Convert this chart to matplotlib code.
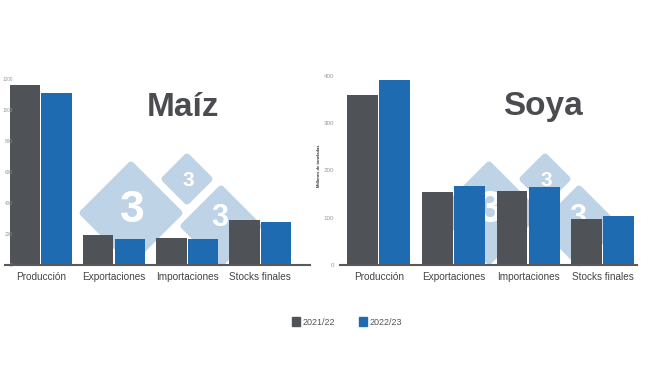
'''
Maíz / Soya supply balance, 2021/22 vs 2022/23, two bar panels side by side.
'''
import matplotlib.pyplot as plt
import numpy as np
from matplotlib.patches import Patch, Polygon

categorias = ['Producción', 'Exportaciones', 'Importaciones', 'Stocks finales']
campanas = ['2021/22', '2022/23']

maiz_2122 = [1161, 194, 172, 290]
maiz_2223 = [1108, 168, 166, 280]
maiz_ticks = [0, 200, 400, 600, 800, 1000, 1200]

soya_2122 = [360, 154, 156, 98]
soya_2223 = [391, 168, 164, 103]
soya_ticks = [0, 100, 200, 300, 400]

gris = '#4f5256'
azul = '#1f6bb2'
marca = '#bfd3e7'

plt.rcParams['font.family'] = ['Liberation Sans', 'DejaVu Sans']

fig = plt.figure(figsize=(6.5, 3.66), dpi=100)

# watermark layer in pixel coordinates, behind the charts
bg = fig.add_axes([0, 0, 1, 1], zorder=0)
bg.set_xlim(0, 650)
bg.set_ylim(366, 0)
bg.axis('off')


def rombo(cx, cy, r, digit_xy, fs):
    pts = [(cx, cy - r), (cx + r, cy), (cx, cy + r), (cx - r, cy)]
    bg.add_patch(Polygon(pts, closed=True, facecolor=marca, edgecolor=marca,
                         linewidth=5, joinstyle='round'))
    bg.text(digit_xy[0], digit_xy[1], '3', color='white', fontsize=fs,
            fontweight='bold', ha='center', va='center')


for dx in (0, 358):
    rombo(131 + dx, 213, 48, (132 + dx, 210), 32)
    rombo(187 + dx, 179, 22, (188 + dx, 181), 15)
    rombo(221 + dx, 226, 37, (220 + dx, 218), 22)


def panel(rect, v1, v2, ticks, ylim, xlim, titulo, tpos, ypad, yfs):
    ax = fig.add_axes(rect, zorder=1)
    ax.patch.set_alpha(0)
    x = np.arange(len(categorias))
    ax.bar(x - 0.215, v1, width=0.415, color=gris)
    ax.bar(x + 0.215, v2, width=0.415, color=azul)
    ax.set_xlim(*xlim)
    ax.set_ylim(*ylim)
    ax.set_xticks(x)
    ax.set_xticklabels(categorias, fontsize=7.2, color='#444444')
    ax.set_yticks(ticks)
    ax.set_yticklabels([str(t) for t in ticks], fontsize=yfs, color='#9a9a9a')
    ax.tick_params(axis='both', length=0)
    ax.tick_params(axis='x', pad=5)
    ax.tick_params(axis='y', pad=ypad)
    for s in ('left', 'right', 'top'):
        ax.spines[s].set_visible(False)
    ax.spines['bottom'].set_color('#5a5a5a')
    ax.spines['bottom'].set_linewidth(1.5)
    fig.text(tpos[0] / 650, 1 - tpos[1] / 366, titulo, fontsize=24,
             fontweight='bold', color='#4a4c50', ha='center', va='center')
    return ax


panel([5 / 650, 101 / 366, 305 / 650, 201.6 / 366], maiz_2122, maiz_2223,
      maiz_ticks, (0, 1300), (-0.49, 3.68), 'Maíz', (183, 107), -5.5, 3.4)
ax2 = panel([340 / 650, 101 / 366, 297 / 650, 198.5 / 366], soya_2122, soya_2223,
            soya_ticks, (0, 420), (-0.52, 3.46), 'Soya', (543, 107), 4, 4.5)
ax2.set_ylabel('Millones de toneladas', fontsize=3, fontweight='bold',
               color='#333333', labelpad=2)

handles = [Patch(color=gris, label=campanas[0]), Patch(color=azul, label=campanas[1])]
fig.legend(handles=handles, loc='center', bbox_to_anchor=(347 / 650, 1 - 322 / 366),
           ncol=2, frameon=False, fontsize=6.5, handlelength=0.9, handleheight=1.0,
           handletextpad=0.3, columnspacing=2.6, labelcolor='#555555')

fig.savefig('out.png', dpi=100)
